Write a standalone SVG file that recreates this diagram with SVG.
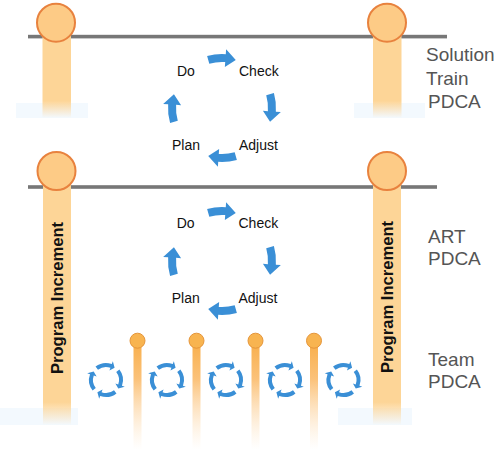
<svg xmlns="http://www.w3.org/2000/svg" xmlns:xlink="http://www.w3.org/1999/xlink" width="501" height="450" viewBox="0 0 501 450">
<style>
.bar{fill:#777777}
.pil{stroke:none}
.cap{fill:#FDCB86;stroke:#E8823E;stroke-width:2}
.scap{fill:#F8B450;stroke:#E5953A;stroke-width:1}
.glow{fill:#F3F9FE}
.lbl{font-family:"Liberation Sans",Arial,sans-serif;font-size:14px;fill:#111111}
.side{font-family:"Liberation Sans",Arial,sans-serif;font-size:19px;fill:#555555}
.pi{font-family:"Liberation Sans",Arial,sans-serif;font-size:16.6px;font-weight:bold;fill:#111111}
.arr{fill:#3A8FD6}
</style>
<defs>
<linearGradient id="gTop" x1="0" y1="0" x2="0" y2="1">
<stop offset="0" stop-color="#FDD597"/>
<stop offset="0.82" stop-color="#FDD597"/>
<stop offset="1" stop-color="#FDD597" stop-opacity="0"/>
</linearGradient>
<linearGradient id="gLow" x1="0" y1="0" x2="0" y2="1">
<stop offset="0" stop-color="#FDD597"/>
<stop offset="0.91" stop-color="#FDD597"/>
<stop offset="1" stop-color="#FDD597" stop-opacity="0"/>
</linearGradient>
<linearGradient id="gPole" x1="0" y1="0" x2="0" y2="1">
<stop offset="0" stop-color="#F8AE4A"/>
<stop offset="0.35" stop-color="#FBC27A"/>
<stop offset="1" stop-color="#FDE3C0" stop-opacity="0"/>
</linearGradient>
<path id="bigArrow" class="arr" d="M -14.88 -51.91 A 54 54 0 0 1 3.77 -53.87 L 4.12 -58.86 L 13.78 -48.07 L 2.86 -40.9 L 3.21 -45.89 A 46 46 0 0 0 -12.68 -44.22 Z"/>
<path id="smallArrow" class="arr" d="M -10.47 -13.4 A 17 17 0 0 1 5.81 -15.97 L 6.84 -18.79 L 8.6 -12.29 L 3.42 -9.4 L 4.45 -12.22 A 13 13 0 0 0 -8 -10.24 Z"/>
<g id="smallCycle">
<use xlink:href="#smallArrow"/>
<use xlink:href="#smallArrow" transform="rotate(90)"/>
<use xlink:href="#smallArrow" transform="rotate(180)"/>
<use xlink:href="#smallArrow" transform="rotate(270)"/>
</g>
</defs>
<rect width="501" height="450" fill="#ffffff"/>

<g id="bars">
<rect class="bar" x="28" y="34.8" width="419" height="3.6"/>
<rect class="bar" x="28" y="185.2" width="409" height="3.6"/>
</g>

<g id="solution-pillar-left">
<rect class="glow" x="16" y="103" width="72" height="15"/>
<rect class="pil" x="42.5" y="23" width="28.5" height="95" fill="url(#gTop)"/>
<circle class="cap" cx="56" cy="22.7" r="19"/>
</g>
<g id="solution-pillar-right">
<rect class="glow" x="354" y="103" width="71" height="15"/>
<rect class="pil" x="373" y="23" width="28.5" height="95" fill="url(#gTop)"/>
<circle class="cap" cx="387" cy="22.7" r="19"/>
</g>

<g id="pi-pillar-left">
<rect class="glow" x="0" y="408" width="78" height="17"/>
<rect class="pil" x="43" y="171" width="28" height="254" fill="url(#gLow)"/>
<circle class="cap" cx="56.5" cy="171" r="19"/>
<text class="pi" text-anchor="middle" transform="translate(63.3,298) rotate(-90)">Program Increment</text>
</g>
<g id="pi-pillar-right">
<rect class="glow" x="338" y="408" width="74" height="17"/>
<rect class="pil" x="373" y="171" width="28" height="254" fill="url(#gLow)"/>
<circle class="cap" cx="387" cy="171" r="19"/>
<text class="pi" text-anchor="middle" transform="translate(393.3,297) rotate(-90)">Program Increment</text>
</g>

<g id="team-poles">
<rect x="133.5" y="341" width="8" height="109" fill="url(#gPole)"/>
<circle class="scap" cx="137.5" cy="340.7" r="7.5"/>
<rect x="192.5" y="341" width="8" height="109" fill="url(#gPole)"/>
<circle class="scap" cx="196.5" cy="340.7" r="7.5"/>
<rect x="251.5" y="341" width="8" height="109" fill="url(#gPole)"/>
<circle class="scap" cx="255.5" cy="340.7" r="7.5"/>
<rect x="310" y="341" width="8" height="109" fill="url(#gPole)"/>
<circle class="scap" cx="314" cy="340.7" r="7.5"/>
</g>

<g id="solution-pdca">
<text class="lbl" x="177" y="76">Do</text>
<text class="lbl" x="239" y="76">Check</text>
<text class="lbl" x="172" y="150">Plan</text>
<text class="lbl" x="239" y="150">Adjust</text>
</g>
<g id="art-pdca">
<text class="lbl" x="176.7" y="228">Do</text>
<text class="lbl" x="238.5" y="228">Check</text>
<text class="lbl" x="171.7" y="303">Plan</text>
<text class="lbl" x="238.5" y="303">Adjust</text>
</g>

<g id="connectors">
<g transform="translate(222,108)">
<use xlink:href="#bigArrow"/>
<use xlink:href="#bigArrow" transform="rotate(90)"/>
<use xlink:href="#bigArrow" transform="rotate(180)"/>
<use xlink:href="#bigArrow" transform="rotate(270)"/>
</g>
<g transform="translate(222,261)">
<use xlink:href="#bigArrow"/>
<use xlink:href="#bigArrow" transform="rotate(90)"/>
<use xlink:href="#bigArrow" transform="rotate(180)"/>
<use xlink:href="#bigArrow" transform="rotate(270)"/>
</g>
</g>

<g id="team-cycles">
<use xlink:href="#smallCycle" transform="translate(106,380)"/>
<use xlink:href="#smallCycle" transform="translate(167,380)"/>
<use xlink:href="#smallCycle" transform="translate(226,380)"/>
<use xlink:href="#smallCycle" transform="translate(285,380)"/>
<use xlink:href="#smallCycle" transform="translate(343.5,380)"/>
</g>

<g id="labels">
<text class="side" x="426" y="61">Solution</text>
<text class="side" x="426" y="85">Train</text>
<text class="side" x="428" y="108">PDCA</text>
<text class="side" x="428" y="243">ART</text>
<text class="side" x="428" y="265">PDCA</text>
<text class="side" x="428" y="366">Team</text>
<text class="side" x="428" y="388">PDCA</text>
</g>
</svg>
